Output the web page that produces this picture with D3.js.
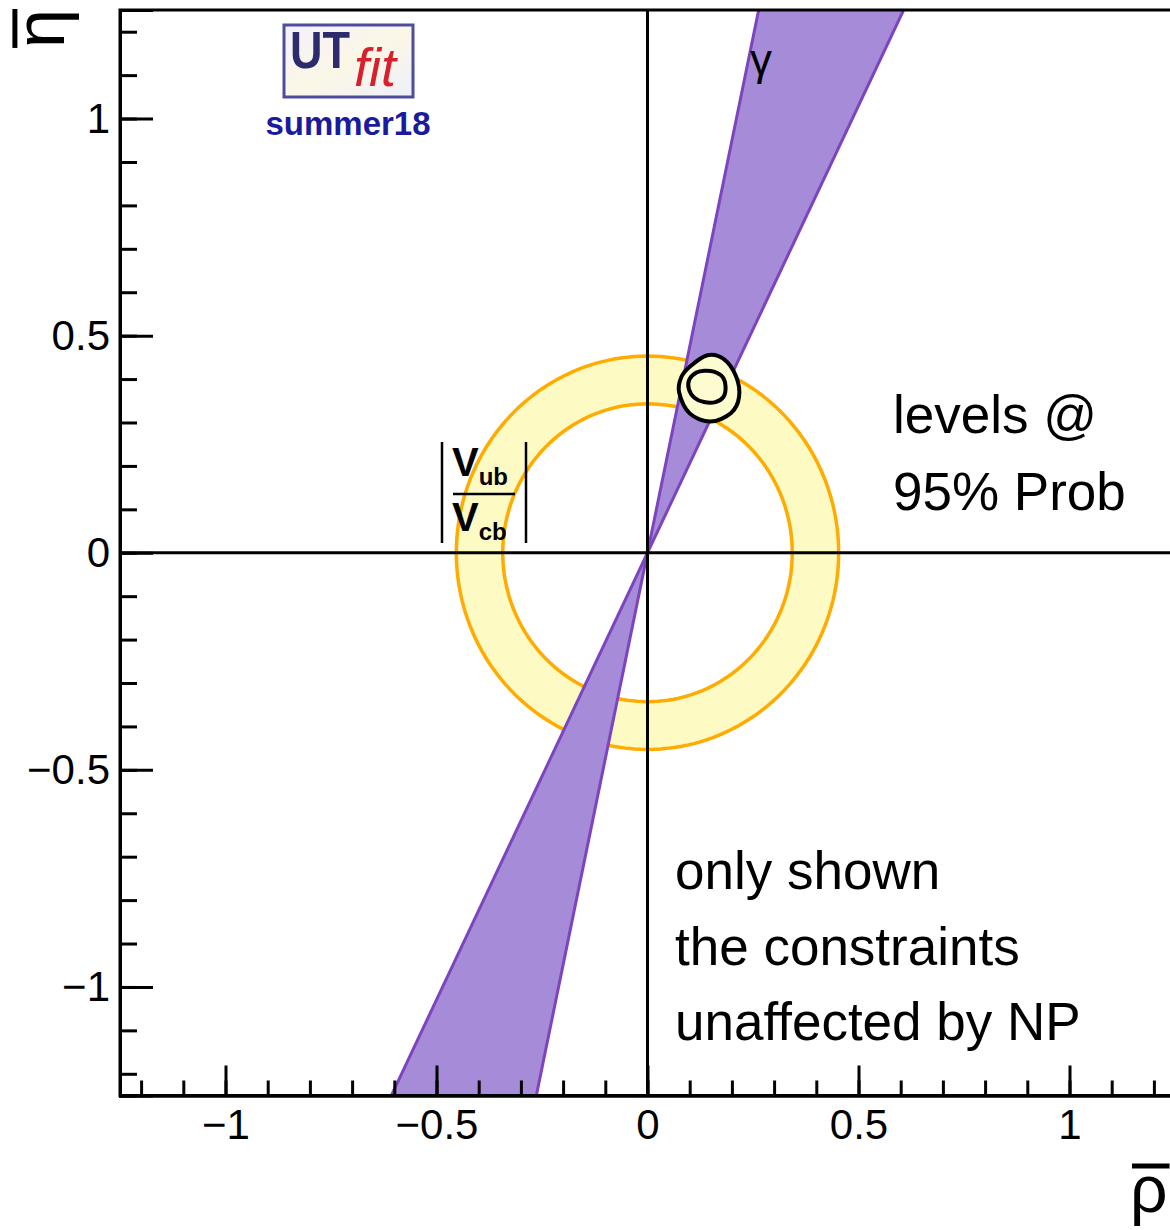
<!DOCTYPE html>
<html lang="en">
<head>
<meta charset="UTF-8">
<title>UTfit summer18 - rho eta</title>
<script src="https://d3js.org/d3.v7.min.js"></script>
<style>
  body { margin: 0; background: #fff; }
  text { font-family: "Liberation Sans", Arial, Helvetica, sans-serif; }
</style>
</head>
<body>
<div id="chart"></div>
<script>
// gamma constraint, 95% band (degrees)
var gammaRange = [64.1, 78.1];
// |Vub/Vcb| ring, inner and outer radius
var vubRadii = [0.343, 0.453];
// fit contours (rho, eta)
var contourOuter = [
  [0.102, 0.430], [0.142, 0.455], [0.181, 0.446], [0.210, 0.406], [0.217, 0.359],
  [0.198, 0.322], [0.149, 0.302], [0.100, 0.321], [0.075, 0.369], [0.080, 0.404]
];
var contourInner = [
  [0.099, 0.399], [0.116, 0.415], [0.135, 0.419], [0.157, 0.417], [0.178, 0.405],
  [0.185, 0.382], [0.180, 0.359], [0.161, 0.347], [0.134, 0.347], [0.111, 0.357],
  [0.098, 0.377]
];
var xMajor = [-1, -0.5, 0, 0.5, 1];
var xLabels = ["\u22121", "\u22120.5", "0", "0.5", "1"];
var yMajor = [-1, -0.5, 0, 0.5, 1];
var yLabels = ["\u22121", "\u22120.5", "0", "0.5", "1"];
var notesTop = ["levels @", "95% Prob"];
var notesBottom = ["only shown", "the constraints", "unaffected by NP"];

var W = 1170, H = 1230;
var x = d3.scaleLinear().domain([-1.25, 1.25]).range([120, 1175]);
var y = d3.scaleLinear().domain([-1.25, 1.25]).range([1095.5, 10]);

var svg = d3.select("#chart").append("svg")
  .attr("width", W).attr("height", H);

svg.append("clipPath").attr("id", "plot")
  .append("rect")
  .attr("x", x(-1.25)).attr("y", y(1.25))
  .attr("width", x(1.25) - x(-1.25)).attr("height", y(-1.25) - y(1.25));

var g = svg.append("g").attr("clip-path", "url(#plot)");
var line = d3.line().x(function (d) { return x(d[0]); }).y(function (d) { return y(d[1]); });

// |Vub/Vcb| ring
var angles = d3.range(0, 360, 2);
var ringLine = d3.line().x(function (d) { return x(d[0]); }).y(function (d) { return y(d[1]); })
  .curve(d3.curveLinearClosed);
function circle(r) {
  return ringLine(angles.map(function (a) {
    var t = a * Math.PI / 180; return [r * Math.cos(t), r * Math.sin(t)];
  }));
}
g.append("path").attr("d", circle(vubRadii[1]) + circle(vubRadii[0]))
  .attr("fill", "#fdfbc3").attr("fill-rule", "evenodd")
  .attr("stroke", "#ffab00").attr("stroke-width", 3.5);

// gamma band: two wedges through the origin
var far = 3;
function dir(a, s) { var r = a * Math.PI / 180; return [s * far * Math.cos(r), s * far * Math.sin(r)]; }
[1, -1].forEach(function (s) {
  g.append("path")
    .attr("d", line([[0, 0], dir(gammaRange[0], s), dir(gammaRange[1], s)]) + "Z")
    .attr("fill", "#a68bd9");
});
gammaRange.forEach(function (a) {
  g.append("path")
    .attr("d", line([dir(a, -1), dir(a, 1)]))
    .attr("fill", "none").attr("stroke", "#7d45bd").attr("stroke-width", 3);
});

// zero lines
g.append("line").attr("x1", x(0)).attr("x2", x(0)).attr("y1", y(1.25)).attr("y2", y(-1.25))
  .attr("stroke", "#000").attr("stroke-width", 3);
g.append("line").attr("x1", x(-1.25)).attr("x2", x(1.25)).attr("y1", y(0)).attr("y2", y(0))
  .attr("stroke", "#000").attr("stroke-width", 3);

// contours
var cline = d3.line().x(function (d) { return x(d[0]); }).y(function (d) { return y(d[1]); })
  .curve(d3.curveCardinalClosed);
[contourOuter, contourInner].forEach(function (c) {
  g.append("path").attr("d", cline(c))
    .attr("fill", "#fdfbd0").attr("stroke", "#000").attr("stroke-width", 4);
});

// frame
svg.append("rect")
  .attr("x", x(-1.25)).attr("y", y(1.25))
  .attr("width", x(1.25) - x(-1.25)).attr("height", y(-1.25) - y(1.25))
  .attr("fill", "none").attr("stroke", "#000").attr("stroke-width", 3);

// axes: minor ticks, then major ticks with labels
var minor = x.ticks(25);
var xAxisMinor = d3.axisBottom(x).tickValues(minor).tickSize(-15).tickFormat("");
var xAxisMajor = d3.axisBottom(x).tickValues(xMajor).tickSize(-30).tickPadding(14)
  .tickFormat(function (d, i) { return xLabels[i]; });
var yAxisMinor = d3.axisLeft(y).tickValues(minor).tickSize(-17).tickFormat("");
var yAxisMajor = d3.axisLeft(y).tickValues(yMajor).tickSize(-33).tickPadding(10)
  .tickFormat(function (d, i) { return yLabels[i]; });

[xAxisMinor, xAxisMajor].forEach(function (a) {
  svg.append("g").attr("class", "axis")
    .attr("transform", "translate(0," + y(-1.25) + ")").call(a);
});
[yAxisMinor, yAxisMajor].forEach(function (a) {
  svg.append("g").attr("class", "axis")
    .attr("transform", "translate(" + x(-1.25) + ",0)").call(a);
});
svg.selectAll(".axis .domain").attr("stroke", "#000").attr("stroke-width", 3);
svg.selectAll(".axis .tick line").attr("stroke", "#000").attr("stroke-width", 3);
svg.selectAll(".axis text").attr("font-size", 42).attr("fill", "#000")
  .attr("font-family", "Liberation Sans, Arial, sans-serif");

// axis titles, each with an overline bar
var titleSize = 70;
var etaG = svg.append("g").attr("transform", "translate(64,9) rotate(-90)");
var etaT = etaG.append("text").attr("text-anchor", "end").attr("font-size", titleSize).text("\u03B7");
var eb = etaT.node().getBBox();
etaG.append("line").attr("x1", eb.x).attr("x2", eb.x + eb.width)
  .attr("y1", -0.53 * titleSize - 12).attr("y2", -0.53 * titleSize - 12)
  .attr("stroke", "#000").attr("stroke-width", 5);

var rhoSize = 66;
var rhoG = svg.append("g").attr("transform", "translate(1130,1212)");
var rhoT = rhoG.append("text").attr("font-size", rhoSize).text("\u03C1");
var rb = rhoT.node().getBBox();
rhoG.append("line").attr("x1", rb.x + 2).attr("x2", rb.x + rb.width + 2)
  .attr("y1", -0.53 * rhoSize - 11).attr("y2", -0.53 * rhoSize - 11)
  .attr("stroke", "#000").attr("stroke-width", 5);

// gamma label
svg.append("text").attr("x", x(0.243)).attr("y", y(1.1))
  .attr("font-size", 44).text("\u03B3");

// |Vub/Vcb| label
var lab = svg.append("g").attr("font-weight", "bold");
lab.append("line").attr("x1", 442).attr("x2", 442).attr("y1", 442).attr("y2", 543)
  .attr("stroke", "#000").attr("stroke-width", 2.5);
lab.append("line").attr("x1", 526).attr("x2", 526).attr("y1", 442).attr("y2", 543)
  .attr("stroke", "#000").attr("stroke-width", 2.5);
lab.append("line").attr("x1", 453).attr("x2", 515).attr("y1", 494).attr("y2", 494)
  .attr("stroke", "#000").attr("stroke-width", 2.5);
var num = lab.append("text").attr("x", 452).attr("y", 476).attr("font-size", 40);
num.append("tspan").text("V");
num.append("tspan").attr("font-size", 24).attr("dy", 9).text("ub");
var den = lab.append("text").attr("x", 452).attr("y", 531).attr("font-size", 40);
den.append("tspan").text("V");
den.append("tspan").attr("font-size", 24).attr("dy", 9).text("cb");

// notes
svg.append("g").selectAll("text").data(notesTop).enter().append("text")
  .attr("x", 893).attr("y", function (d, i) { return 433 + i * 77; })
  .attr("font-size", 53).text(function (d) { return d; });
svg.append("g").selectAll("text").data(notesBottom).enter().append("text")
  .attr("x", 675).attr("y", function (d, i) { return 889 + i * 75.5; })
  .attr("font-size", 53).text(function (d) { return d; });

// UTfit logo
var defs = svg.append("defs");
var grad = defs.append("linearGradient").attr("id", "logobg")
  .attr("x1", 0).attr("y1", 0).attr("x2", 1).attr("y2", 1);
grad.append("stop").attr("offset", "0%").attr("stop-color", "#f4f0ff");
grad.append("stop").attr("offset", "50%").attr("stop-color", "#fbf7e6");
grad.append("stop").attr("offset", "100%").attr("stop-color", "#eef0fa");
var logo = svg.append("g");
logo.append("rect").attr("x", 284).attr("y", 25).attr("width", 129).attr("height", 72)
  .attr("fill", "url(#logobg)").attr("stroke", "#4d4d9e").attr("stroke-width", 3);
logo.append("text").attr("x", 290).attr("y", 68)
  .attr("font-size", 52).attr("font-weight", "bold").attr("fill", "#2b2b6e")
  .attr("textLength", 60).attr("lengthAdjust", "spacingAndGlyphs").text("UT");
logo.append("text").attr("x", 354).attr("y", 86)
  .attr("font-family", "Liberation Serif, serif").attr("font-style", "italic")
  .attr("font-size", 54).attr("fill", "#d8202c").text("fit");
logo.append("text").attr("x", 348).attr("y", 135).attr("text-anchor", "middle")
  .attr("font-size", 33).attr("font-weight", "bold").attr("fill", "#1a1a9c").text("summer18");
</script>
</body>
</html>
